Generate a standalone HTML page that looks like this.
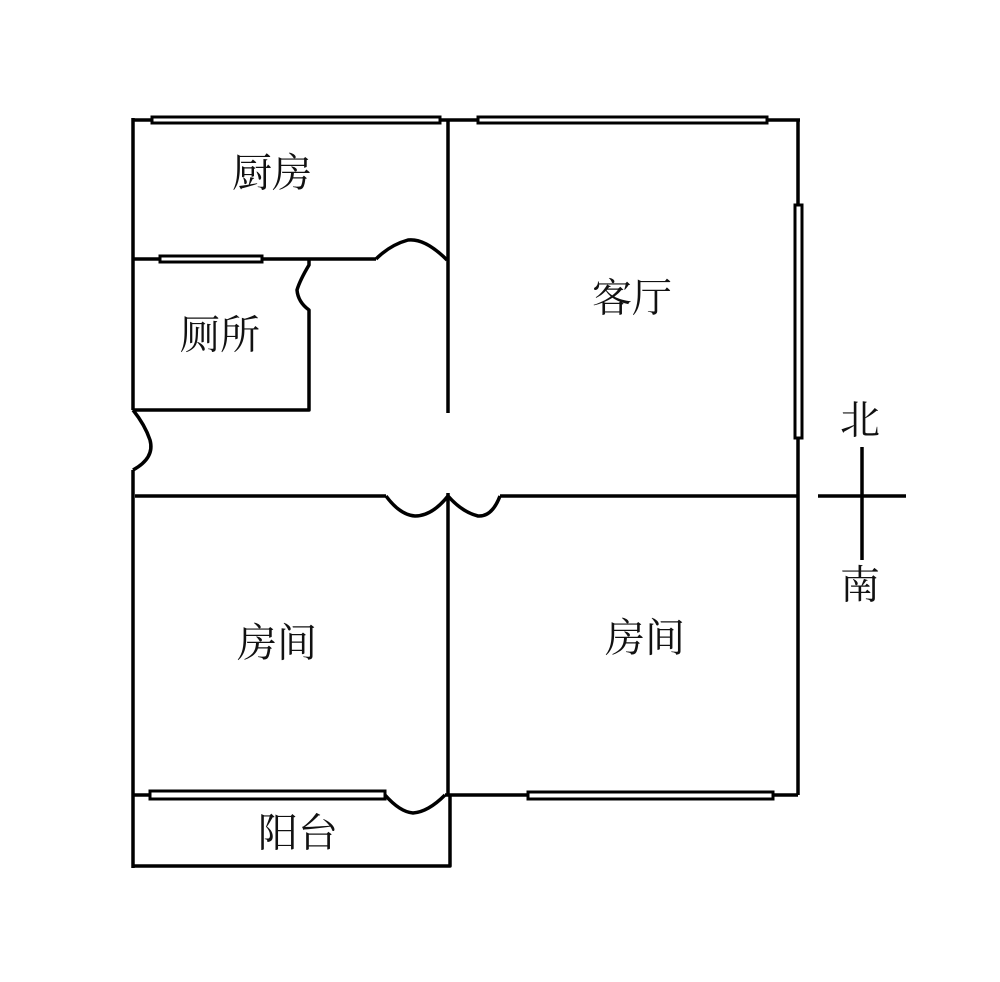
<!DOCTYPE html>
<html><head><meta charset="utf-8"><style>
html,body{margin:0;padding:0;background:#fff;}
svg{display:block}
text{font-family:"Liberation Serif","Noto Serif CJK SC","Noto Sans CJK SC",serif;font-size:40px;fill:#111;text-anchor:middle;dominant-baseline:central}
</style></head><body>
<svg width="1000" height="982" viewBox="0 0 1000 982" xmlns="http://www.w3.org/2000/svg">
<g fill="none" stroke="#000" stroke-width="3.5" stroke-linejoin="round">
<line x1="133" y1="120" x2="800" y2="120"/>
<line x1="133" y1="118" x2="133" y2="410"/>
<path d="M133 410 Q145 425 150 440 Q155 458 133 470"/>
<line x1="133" y1="470" x2="133" y2="868"/>
<line x1="798" y1="120" x2="798" y2="795"/>
<line x1="133" y1="259" x2="376" y2="259"/>
<path d="M376 259 Q390 245 408 240 Q425 238 447 260"/>
<line x1="448" y1="120" x2="448" y2="413"/>
<line x1="448" y1="493" x2="448" y2="795"/>
<path d="M309 258 L309 265 Q300 280 297 290 Q298 302 309 310 L309 410 L133 410"/>
<line x1="135" y1="496" x2="386" y2="496"/>
<path d="M386 496 Q400 515 415 516 Q432 516 448 496 Q462 512 478 516 Q492 517 500 496"/>
<line x1="500" y1="496" x2="798" y2="496"/>
<line x1="133" y1="795" x2="385" y2="795"/>
<path d="M385 795 Q400 812 413 813 Q428 812 445 795"/>
<line x1="445" y1="795" x2="798" y2="795"/>
<polyline points="133,866 450,866 450,795"/>
<line x1="818" y1="496" x2="906" y2="496"/>
<line x1="862" y1="447" x2="862" y2="560"/>
</g>
<g fill="#fff" stroke="#000" stroke-width="3">
<rect x="152" y="117" width="288" height="6"/>
<rect x="478" y="117" width="289" height="6"/>
<rect x="795" y="205" width="7" height="233"/>
<rect x="160" y="256" width="102" height="6"/>
<rect x="150" y="791" width="235" height="8"/>
<rect x="528" y="792" width="245" height="7"/>
</g>
<text x="272" y="173">厨房</text>
<text x="220" y="335">厕所</text>
<text x="632" y="298">客厅</text>
<text x="277" y="643">房间</text>
<text x="645" y="638">房间</text>
<text x="298" y="833">阳台</text>
<text x="860" y="420">北</text>
<text x="860" y="585">南</text>
</svg>
</body></html>
